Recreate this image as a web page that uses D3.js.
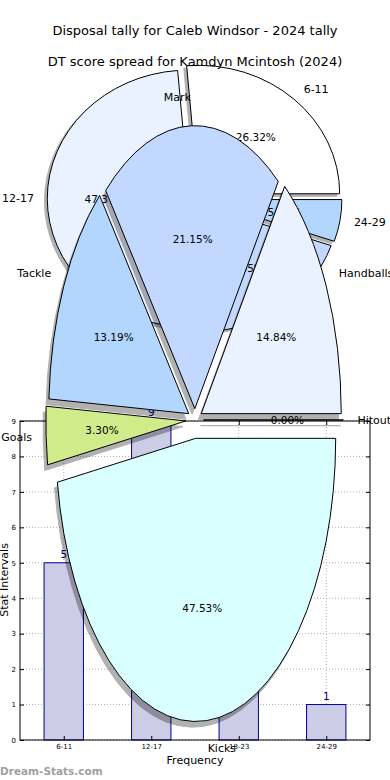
<!DOCTYPE html>
<html>
<head>
<meta charset="utf-8">
<script src="https://cdn.jsdelivr.net/npm/d3@7"></script>
<style>
body{margin:0;background:#fff;}
text{font-family:"DejaVu Sans",sans-serif;}
</style>
</head>
<body>
<svg id="chart" width="390" height="780"></svg>
<script>
// disposal bins (bar chart + first pie)
var bins = ['6-11','12-17','18-23','24-29'];
var binCounts = [5, 9, 4, 1];
var binColors = ['#ffffff','#eaf1ff','#c3d8ff','#b3d6ff'];
var binExplode = [0.05, 0.03, 0.05, 0.05];

// DT score spread (second pie)
var stats = ['Handballs','Mark','Tackle','Goals','Kicks','Hitout'];
var statPct = [14.84, 21.15, 13.19, 3.30, 47.53, 0.00];
var statColors = ['#eaf1ff','#c3d8ff','#b3d6ff','#d0eb8a','#daffff','#ffd8b0'];
var statExplode = [0.05, 0.04, 0.05, 0.065, 0.065, 0.06];

var yTicks = [0,1,2,3,4,5,6,7,8,9];

var svg = d3.select('#chart');

//matplotlib style pie: starts at 3 o'clock, goes counterclockwise, squashed to an ellipse
function drawPie(g, names, values, colors, explode, cx, cy, rx, ry){
	var pie = d3.pie().sort(null).startAngle(Math.PI/2).endAngle(Math.PI/2 - 2*Math.PI);
	var arcs = pie(values);
	var arc = d3.arc().innerRadius(0).outerRadius(1);
	var total = d3.sum(values);
	arcs.forEach(function(d, i){
		var m = (d.startAngle + d.endAngle)/2;
		d.mx = Math.sin(m);
		d.my = -Math.cos(m);
		d.e = explode[i];
		d.ox = cx + d.e*d.mx*rx;
		d.oy = cy + d.e*d.my*ry;
		d.name = names[i];
		d.col = colors[i];
		d.pct = (d.value/total*100).toFixed(2) + '%';
	});

	//shadows first
	g.selectAll('path.shadow').data(arcs).enter().append('path')
		.attr('class','shadow')
		.attr('transform', function(d){ return 'translate(' + (d.ox - 0.02*rx) + ',' + (d.oy + 0.02*ry) + ') scale(' + rx + ',' + ry + ')'; })
		.attr('d', arc)
		.attr('fill', '#000')
		.attr('stroke', '#000')
		.attr('stroke-width', 1)
		.attr('vector-effect', 'non-scaling-stroke')
		.attr('opacity', 0.3);

	g.selectAll('path.wedge').data(arcs).enter().append('path')
		.attr('class','wedge')
		.attr('transform', function(d){ return 'translate(' + d.ox + ',' + d.oy + ') scale(' + rx + ',' + ry + ')'; })
		.attr('d', arc)
		.attr('fill', function(d){ return d.col; })
		.attr('stroke', '#000')
		.attr('stroke-width', 1)
		.attr('vector-effect', 'non-scaling-stroke');

	//names outside
	g.selectAll('text.name').data(arcs).enter().append('text')
		.attr('class','name')
		.attr('x', function(d){ return d.ox + 1.1*d.mx*rx; })
		.attr('y', function(d){ return d.oy + 1.1*d.my*ry; })
		.attr('text-anchor', function(d){ return d.mx > 0 ? 'start' : 'end'; })
		.attr('dominant-baseline', 'central')
		.attr('font-size', 11)
		.text(function(d){ return d.name; });

	//percentages inside
	g.selectAll('text.pct').data(arcs).enter().append('text')
		.attr('class','pct')
		.attr('x', function(d){ return d.ox + 0.6*d.mx*rx; })
		.attr('y', function(d){ return d.oy + 0.6*d.my*ry; })
		.attr('text-anchor', 'middle')
		.attr('dominant-baseline', 'central')
		.attr('font-size', 10.5)
		.text(function(d){ return d.pct; });
}

//first pie
var pie1 = svg.append('g');
pie1.append('text').attr('x', 195).attr('y', 30).attr('text-anchor','middle')
	.attr('dominant-baseline','central').attr('font-size', 13)
	.text('Disposal tally for Caleb Windsor - 2024 tally');
drawPie(pie1, bins, binCounts, binColors, binExplode, 193.6, 198.5, 141.3, 128.4);

//bar chart
var bar = svg.append('g');
var x = d3.scaleLinear().domain([-0.5, 3.5]).range([20, 370]);
var y = d3.scaleLinear().domain([0, 9]).range([740, 421]);

bar.selectAll('line.hgrid').data(yTicks).enter().append('line')
	.attr('x1', x(-0.5)).attr('x2', x(3.5))
	.attr('y1', function(d){ return y(d); }).attr('y2', function(d){ return y(d); })
	.attr('stroke', '#b0b0b0').attr('stroke-dasharray', '1,2');
bar.selectAll('line.vgrid').data(bins).enter().append('line')
	.attr('x1', function(d,i){ return x(i); }).attr('x2', function(d,i){ return x(i); })
	.attr('y1', y(0)).attr('y2', y(9))
	.attr('stroke', '#b0b0b0').attr('stroke-dasharray', '1,2');

bar.selectAll('rect.bar').data(binCounts).enter().append('rect')
	.attr('x', function(d,i){ return x(i - 0.225); })
	.attr('width', x(0.225) - x(-0.225))
	.attr('y', function(d){ return y(d); })
	.attr('height', function(d){ return y(0) - y(d); })
	.attr('fill', '#cccce6')
	.attr('stroke', '#00008b').attr('stroke-width', 1);

bar.selectAll('text.val').data(binCounts).enter().append('text')
	.attr('x', function(d,i){ return x(i); })
	.attr('y', function(d){ return y(d) - 5; })
	.attr('text-anchor', 'middle')
	.attr('font-size', 10.5).attr('fill', '#00008b')
	.text(function(d){ return d; });

var axL = bar.append('g').attr('transform','translate(' + x(-0.5) + ',0)')
	.call(d3.axisLeft(y).tickValues(yTicks).tickSize(-4).tickPadding(4));
var axR = bar.append('g').attr('transform','translate(' + x(3.5) + ',0)')
	.call(d3.axisRight(y).tickValues(yTicks).tickSize(-4).tickFormat(''));
var axB = bar.append('g').attr('transform','translate(0,' + y(0) + ')')
	.call(d3.axisBottom(x).tickValues([0,1,2,3]).tickSize(-4).tickPadding(4).tickFormat(function(d){ return bins[d]; }));
var axT = bar.append('g').attr('transform','translate(0,' + y(9) + ')')
	.call(d3.axisTop(x).tickValues([0,1,2,3]).tickSize(-4).tickFormat(''));
[axL, axR, axB, axT].forEach(function(a){
	a.select('.domain').remove();
	a.selectAll('text').attr('font-size', 7).attr('font-family', '"DejaVu Sans",sans-serif').attr('fill', '#000');
	a.selectAll('line').attr('stroke', '#000');
});
bar.append('rect').attr('x', x(-0.5)).attr('y', y(9))
	.attr('width', x(3.5) - x(-0.5)).attr('height', y(0) - y(9))
	.attr('fill', 'none').attr('stroke', '#000').attr('stroke-width', 1);

bar.append('text').attr('x', 195).attr('y', 760).attr('text-anchor','middle')
	.attr('dominant-baseline','central').attr('font-size', 11).text('Frequency');
bar.append('text').attr('transform', 'translate(4,580) rotate(-90)').attr('text-anchor','middle')
	.attr('dominant-baseline','central').attr('font-size', 11).text('Stat Intervals');

//second pie on top
var pie2 = svg.append('g');
pie2.append('text').attr('x', 195).attr('y', 61).attr('text-anchor','middle')
	.attr('dominant-baseline','central').attr('font-size', 13)
	.text('DT score spread for Kamdyn Mcintosh (2024)');
drawPie(pie2, stats, statPct, statColors, statExplode, 195, 420, 140, 283);

//watermark
svg.append('text').attr('x', 0).attr('y', 775).attr('font-size', 10.5).attr('font-weight', 'bold')
	.attr('fill', '#a0a0a0').text('Dream-Stats.com');
</script>
</body>
</html>
